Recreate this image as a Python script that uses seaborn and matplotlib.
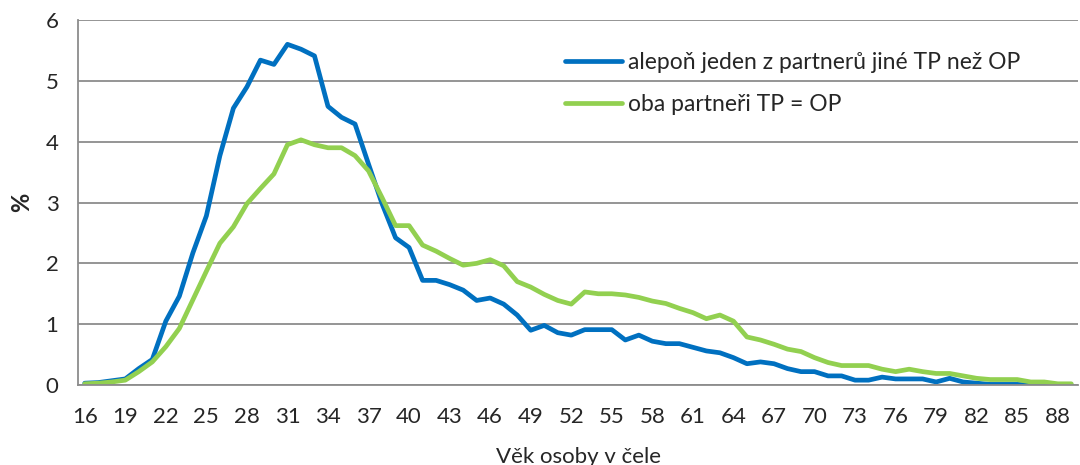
import numpy as np
import pandas as pd
import matplotlib
matplotlib.use('Agg')
import matplotlib.pyplot as plt
import seaborn as sns

ages = list(range(16, 90))

blue_vals = [0.03, 0.04, 0.07, 0.10, 0.27, 0.42, 1.05, 1.46, 2.17, 2.78,
             3.77, 4.55, 4.90, 5.34, 5.27, 5.60, 5.52, 5.41, 4.58, 4.40,
             4.29, 3.63, 2.98, 2.42, 2.26, 1.72, 1.72, 1.65, 1.56, 1.39,
             1.43, 1.33, 1.15, 0.90, 0.98, 0.86, 0.82, 0.91, 0.91, 0.91,
             0.74, 0.82, 0.72, 0.68, 0.68, 0.62, 0.56, 0.53, 0.45, 0.35,
             0.38, 0.35, 0.27, 0.22, 0.22, 0.15, 0.15, 0.08, 0.08, 0.13,
             0.10, 0.10, 0.10, 0.05, 0.11, 0.05, 0.03, 0.01, 0.01, 0.01,
             0.00, 0.00, 0.00, 0.00]

green_vals = [0.02, 0.03, 0.05, 0.08, 0.22, 0.38, 0.63, 0.93, 1.40, 1.87,
              2.33, 2.60, 2.98, 3.23, 3.47, 3.95, 4.03, 3.95, 3.90, 3.90,
              3.77, 3.52, 3.08, 2.62, 2.62, 2.30, 2.20, 2.08, 1.97, 2.00,
              2.06, 1.96, 1.70, 1.61, 1.49, 1.39, 1.33, 1.53, 1.50, 1.50,
              1.48, 1.44, 1.38, 1.34, 1.26, 1.19, 1.09, 1.15, 1.05, 0.79,
              0.74, 0.67, 0.59, 0.55, 0.45, 0.37, 0.32, 0.32, 0.32, 0.26,
              0.22, 0.26, 0.22, 0.19, 0.19, 0.15, 0.11, 0.09, 0.09, 0.09,
              0.05, 0.05, 0.02, 0.02]

series_names = ['alepoň jeden z partnerů jiné TP než OP', 'oba partneři TP = OP']

df = pd.DataFrame({
    'age': ages * 2,
    'value': blue_vals + green_vals,
    'series': [series_names[0]] * len(ages) + [series_names[1]] * len(ages),
})

sns.set_style('white')
plt.rcParams['font.family'] = ['Lato', 'DejaVu Sans']

fig = plt.figure(figsize=(10.8, 4.65), dpi=100)
ax = fig.add_axes([0.0722, 0.172, 0.926, 0.785])

sns.lineplot(data=df, x='age', y='value', hue='series', ax=ax,
             palette=['#0070C0', '#92D050'], linewidth=3.4, legend=False)

ax.set_xlim(15.5, 89.5)
ax.set_ylim(0, 6)
ax.set_yticks(range(0, 7))
ax.yaxis.grid(True, color='#8c8c8c', linewidth=1.3)
ax.set_axisbelow(True)

ax.set_xticks(list(range(16, 90, 3)))
ax.set_xticks(np.arange(15.5, 90, 1), minor=True)
ax.tick_params(axis='x', which='major', length=0, labelsize=16, pad=16)
ax.tick_params(axis='x', which='minor', length=6, width=1.3, color='#8c8c8c', direction='out')
ax.tick_params(axis='y', length=6, width=1.3, color='#8c8c8c', labelsize=16, direction='out', pad=8)

for s in ['top', 'right']:
    ax.spines[s].set_visible(False)
for s in ['left', 'bottom']:
    ax.spines[s].set_color('#8c8c8c')
    ax.spines[s].set_linewidth(1.3)

ax.set_xlabel('Věk osoby v čele', fontsize=16, labelpad=14)
ax.set_ylabel('%', fontsize=17, fontweight='bold', labelpad=9)

handles = [plt.Line2D([], [], color='#0070C0', lw=3.4),
           plt.Line2D([], [], color='#92D050', lw=3.4)]
ax.legend(handles, series_names, loc='upper left', bbox_to_anchor=(0.466, 0.97),
          frameon=False, fontsize=16.5, handlelength=2.5, handletextpad=0.25,
          labelspacing=0.95)

fig.savefig('out.png', dpi=100)
